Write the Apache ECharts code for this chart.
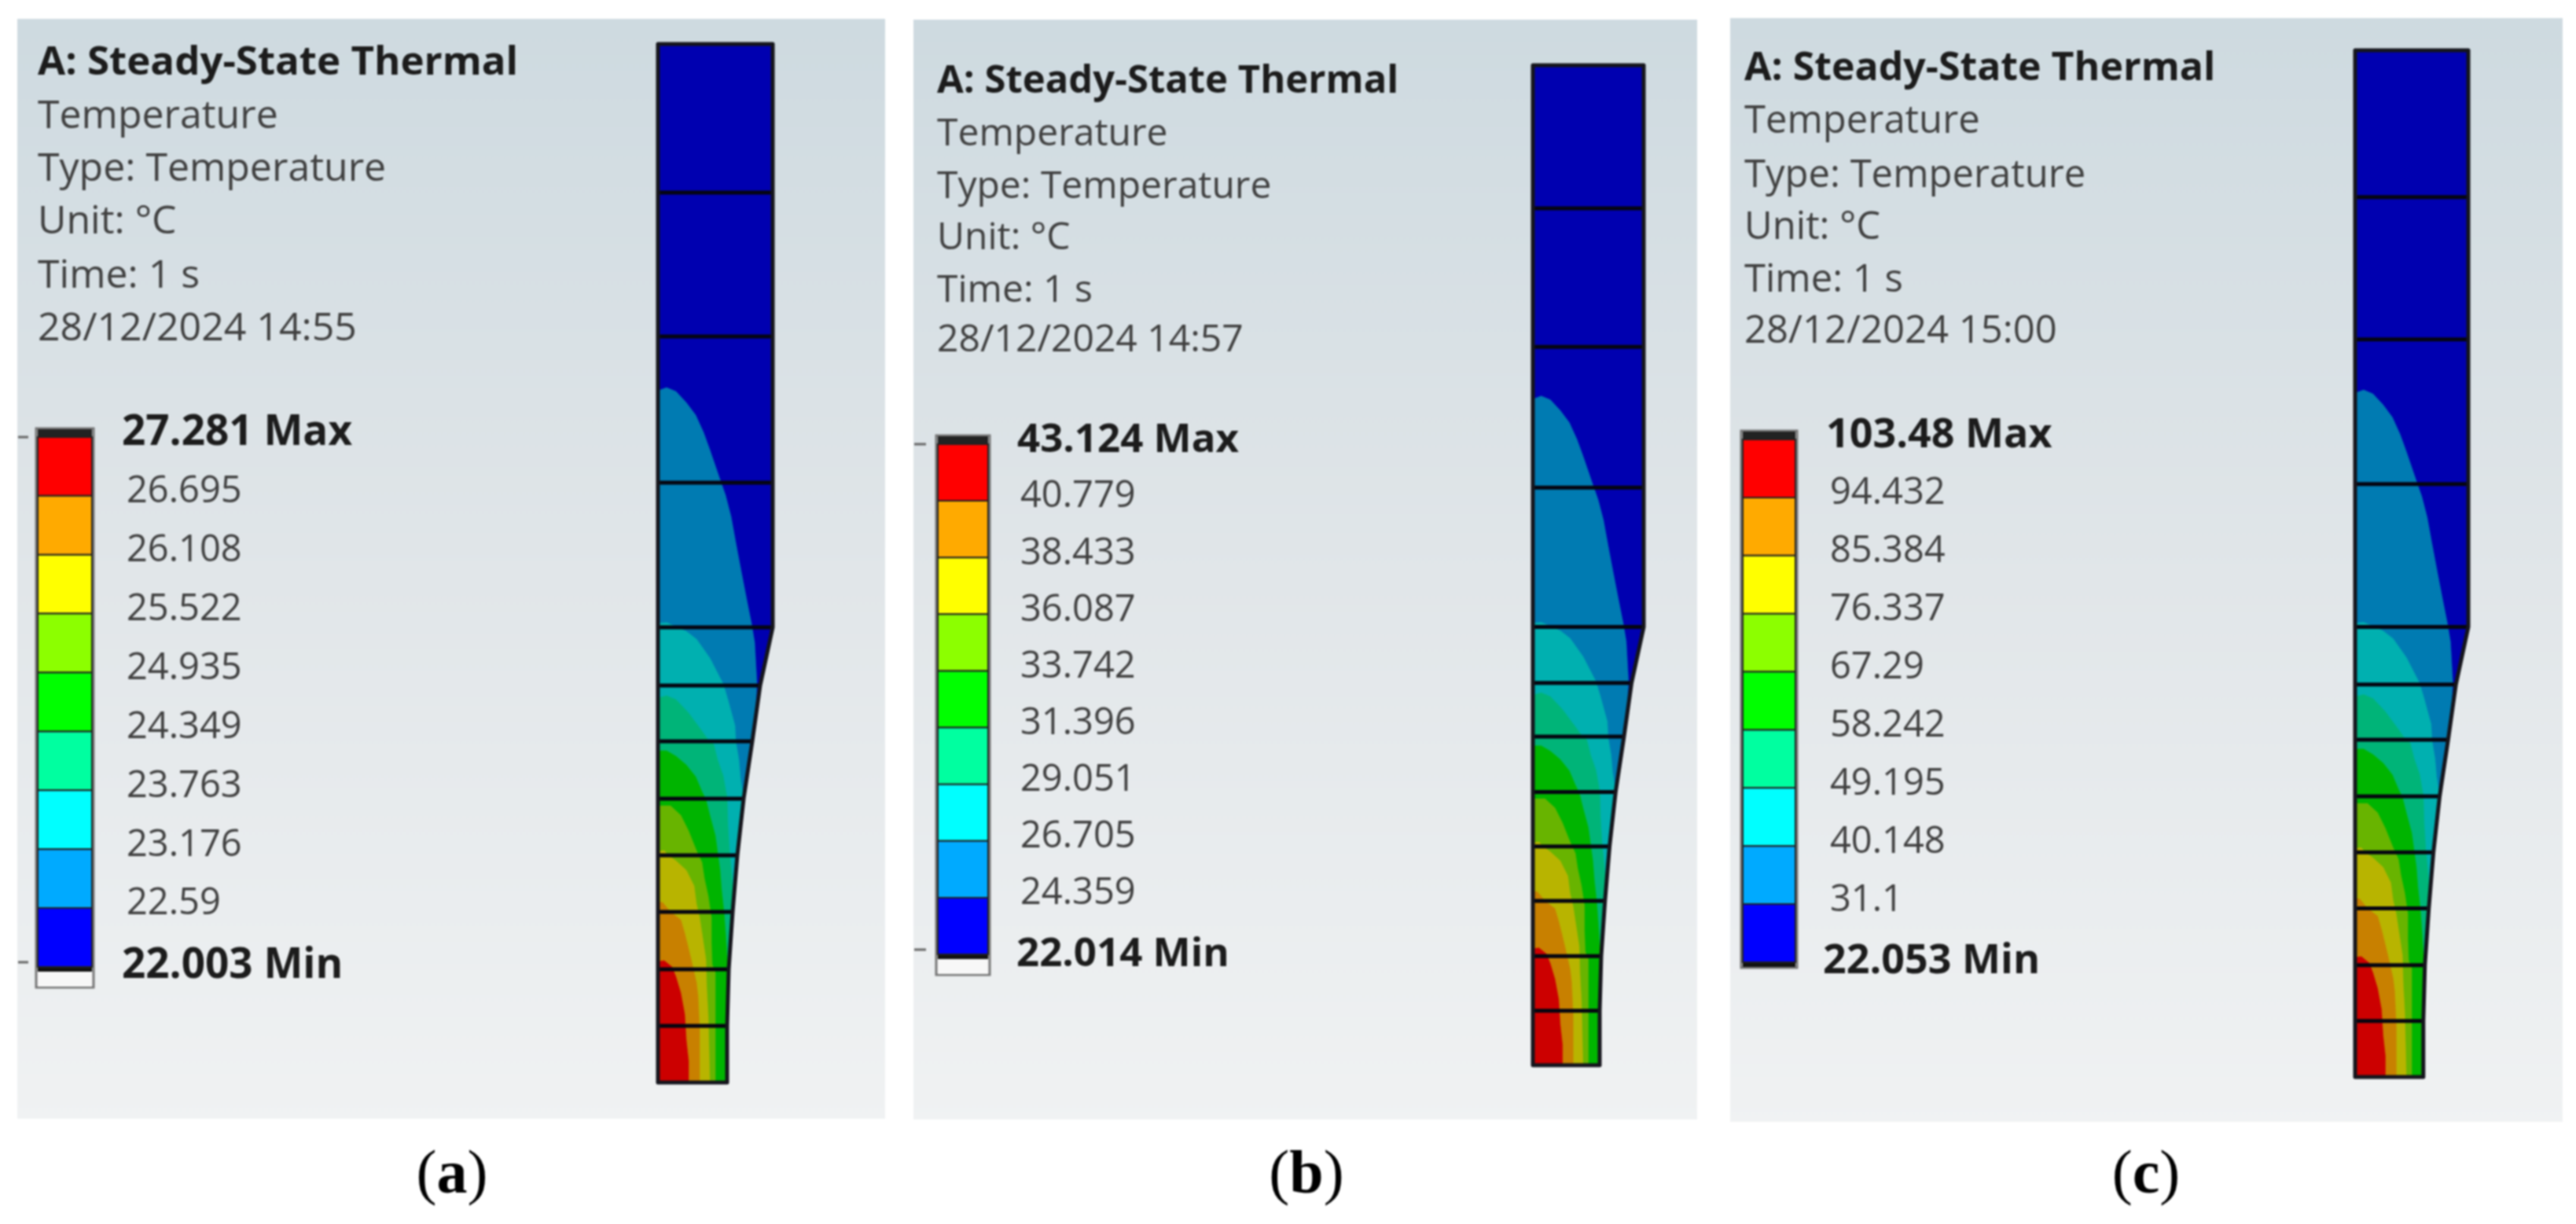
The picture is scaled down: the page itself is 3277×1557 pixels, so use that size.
<!DOCTYPE html>
<html><head><meta charset="utf-8">
<script src="https://cdn.jsdelivr.net/npm/echarts@6/dist/echarts.min.js"></script>
<style>html,body{margin:0;padding:0;background:#fff}#main{width:3277px;height:1557px;filter:blur(0.8px)}</style>
</head><body><div id="main"></div>
<script>
// ---------- data ----------
const captions = ['a','b','c'];
const headerLines = ['A: Steady-State Thermal','Temperature','Type: Temperature','Unit: °C','Time: 1 s'];
const timestamps = ['28/12/2024 14:55','28/12/2024 14:57','28/12/2024 15:00'];
const levelsA = [27.281,26.695,26.108,25.522,24.935,24.349,23.763,23.176,22.59,22.003];
const levelsB = [43.124,40.779,38.433,36.087,33.742,31.396,29.051,26.705,24.359,22.014];
const levelsC = [103.48,94.432,85.384,76.337,67.29,58.242,49.195,40.148,31.1,22.053];
const legendColors = ['#ff0000','#ffaa00','#ffff00','#8cff00','#00ff00','#00ffa0','#00ffff','#00aaff','#0000ff'];
// fin outline [x,y] in model units, y down from the tip
const finOutline = [[0,0],[146,0],[146,742],[130,816],[120,887],[109,960],[101,1032],[95,1104],[90,1177],[88,1249],[88,1321],[0,1321]];
const meshLines = [189,372,558,742,816,887,960,1032,1104,1177,1249];
// isotherm curves (hot side is towards the lower left)
const curveAzure = [[0,441],[11,437],[23,442],[36,456],[48,472],[58,494],[66,516],[79,554],[86,574],[93,601],[99,634],[106,671],[113,707],[119,737],[123,761],[126,814],[124,850],[120,887]];
const curveCyan = [[0,737],[11,736],[18,739],[36,747],[49,757],[66,781],[83,814],[89,834],[98,867],[99,887],[103,911],[105,934],[109,960]];
const curveTeal = [[0,832],[11,829],[23,834],[39,851],[56,874],[63,884],[71,891],[76,911],[83,931],[88,959],[89,994],[91,1027],[94,1057],[96,1084],[96,1100]];
const curveGreen = [[0,899],[11,899],[23,906],[36,917],[48,932],[56,951],[61,961],[66,981],[73,1007],[76,1029],[79,1051],[81,1077],[84,1104],[86,1131],[88,1161],[90,1177]];
const curveLime = [[0,969],[16,969],[29,981],[39,1001],[49,1026],[56,1041],[59,1061],[64,1084],[68,1111],[68,1144],[69,1171],[73,1181],[73,1237],[73,1321]];
const curveYellow = [[0,1027],[8,1026],[13,1032],[23,1039],[36,1051],[46,1071],[49,1094],[53,1111],[56,1131],[61,1164],[62,1200],[64,1237],[66,1321]];
const curveOrange = [[0,1091],[6,1092],[16,1104],[29,1114],[34,1131],[39,1151],[44,1172],[49,1194],[51,1211],[53,1254],[53,1321]];
const curveRed = [[0,1167],[8,1166],[18,1174],[23,1187],[29,1207],[34,1234],[36,1267],[39,1294],[39,1321]];
const isotherms = [curveAzure,curveCyan,curveTeal,curveGreen,curveLime,curveYellow,curveOrange,curveRed];
const shadeColors = ['#0000b0','#007bb2','#00b0b0','#00b478','#00b400','#68b400','#b8b400','#c88000','#cc0000'];

// ---------- layout ----------
const SANS = '"Open Sans"';
const panels = [
 {rect:[22,24,1104,1399], fin:[837,56,146,1321], leg:[48,556,69,674], levels:levelsA, legendWhite:true, tick:[-25,-12],
  textX:48, lineY:[80,149,216,283,352,419], fs:50, titleFs:51, lblFs:47, boldFs:53, lblX:44, boldX:38, minX:38, lblDy:-5, minDy:-1, cap:575},
 {rect:[1162,25,997,1399], fin:[1950,83,141,1272], leg:[1193,565,64,649], levels:levelsB, legendWhite:true, tick:[-30,-15],
  textX:1192, lineY:[104,171,238,303,370,433], fs:48, titleFs:49, lblFs:47, boldFs:51, lblX:41, boldX:37, minX:36, lblDy:-5, minDy:0, cap:1662},
 {rect:[2201,23,1059,1404], fin:[2996,64,144,1306], leg:[2217,559,67,665], levels:levelsC, legendWhite:false, tick:null,
  textX:2219, lineY:[88,155,224,290,357,422], fs:49, titleFs:50, lblFs:47, boldFs:52, lblX:44, boldX:39, minX:35, lblDy:-5, minDy:-1, cap:2730}
];

const edgeAt = y => {
  for (let i=1;i<finOutline.length;i++){
    const a=finOutline[i-1], b=finOutline[i];
    if (a[1]!==b[1] && y>=a[1] && y<=b[1]) return a[0]+(b[0]-a[0])*(y-a[1])/(b[1]-a[1]);
  }
  return 0;
};
const regionOf = curve => {
  const last = curve[curve.length-1], pts = curve.slice();
  finOutline.forEach((p,i)=>{ if(i>=2 && i<finOutline.length-1 && p[1]>last[1]) pts.push(p); });
  pts.push([0,finOutline[finOutline.length-1][1]]);
  return pts;
};
const regions = [finOutline].concat(isotherms.map(regionOf));

const grids=[], xAxes=[], yAxes=[], series=[], graphics=[];
const hidden = extra => Object.assign({show:false,type:'value'},extra);
panels.forEach((p,pi)=>{
  // panel background
  graphics.push({type:'rect',z:0,shape:{x:p.rect[0],y:p.rect[1],width:p.rect[2],height:p.rect[3]},
    style:{fill:new echarts.graphic.LinearGradient(0,0,0,1,[{offset:0,color:'#cedae0'},{offset:0.5,color:'#e1e6e9'},{offset:1,color:'#f0f2f3'}])}});
  // header text
  headerLines.concat([timestamps[pi]]).forEach((t,i)=>{
    graphics.push({type:'text',z:5,style:{text:t,x:p.textX,y:p.lineY[i],textVerticalAlign:'middle',
      font:(i===0?'bold ':'')+(i===0?p.titleFs:p.fs)+'px '+SANS,fill:i===0?'#1c1c1c':'#404040'}});
  });
  // caption
  graphics.push({type:'text',z:5,style:{text:'{n|(}{b|'+captions[pi]+'}{n|)}',x:p.cap,y:1497,textAlign:'center',textVerticalAlign:'middle',
    rich:{n:{font:'78px "Liberation Serif"',fill:'#000'},b:{font:'bold 78px "Liberation Serif"',fill:'#000'}}}});

  // fin grid: model units
  const fg=grids.length;
  grids.push({left:p.fin[0],top:p.fin[1],width:p.fin[2],height:p.fin[3],containLabel:false});
  xAxes.push(hidden({gridIndex:fg,min:0,max:146}));
  yAxes.push(hidden({gridIndex:fg,min:0,max:1321,inverse:true}));
  series.push({type:'custom',xAxisIndex:fg,yAxisIndex:fg,z:3,clip:false,silent:true,
    coordinateSystem:'cartesian2d',encode:{x:0,y:1},data:regions.map((r,i)=>[0,0,i]),
    renderItem:(params,api)=>({type:'polygon',shape:{points:regions[api.value(2)].map(q=>api.coord(q))},
      style:{fill:shadeColors[api.value(2)],stroke:shadeColors[api.value(2)],lineWidth:0.5}})});
  series.push({type:'custom',xAxisIndex:fg,yAxisIndex:fg,z:4,clip:false,silent:true,
    coordinateSystem:'cartesian2d',encode:{x:0,y:1},data:meshLines.map(y=>[0,y]),
    renderItem:(params,api)=>{const y=api.value(1);const a=api.coord([0,y]),b=api.coord([edgeAt(y),y]);
      return {type:'line',shape:{x1:a[0],y1:a[1],x2:b[0],y2:b[1]},style:{stroke:'#050510',lineWidth:5}};}});
  series.push({type:'custom',xAxisIndex:fg,yAxisIndex:fg,z:5,clip:false,silent:true,
    coordinateSystem:'cartesian2d',encode:{x:0,y:1},data:[[0,0]],
    renderItem:(params,api)=>({type:'polygon',shape:{points:finOutline.map(q=>api.coord(q))},
      style:{fill:'none',stroke:'#15151c',lineWidth:5,lineJoin:'round'}})});

  // legend grid: real temperature scale
  const lg=grids.length, L=p.levels;
  grids.push({left:p.leg[0],top:p.leg[1],width:p.leg[2],height:p.leg[3],containLabel:false});
  xAxes.push(hidden({gridIndex:lg,min:0,max:1}));
  yAxes.push(hidden({gridIndex:lg,min:L[L.length-1],max:L[0]}));
  const lo=L[L.length-1], hi=L[0];
  // end caps
  series.push({type:'custom',xAxisIndex:lg,yAxisIndex:lg,z:3,clip:false,silent:true,
    coordinateSystem:'cartesian2d',encode:{x:0,y:1},data:[[0,hi]],
    renderItem:(params,api)=>{
      const t=api.coord([0,hi]), b=api.coord([1,lo]), w=b[0]-t[0], ch=[];
      ch.push({type:'rect',shape:{x:t[0]-2,y:t[1]-11,width:w+4,height:b[1]-t[1]+(p.legendWhite?37:18)},style:{fill:'none',stroke:'#777',lineWidth:3}});
      ch.push({type:'rect',shape:{x:t[0],y:t[1]-10,width:w,height:10},style:{fill:'#222'}});
      if(p.legendWhite){
        ch.push({type:'rect',shape:{x:t[0],y:b[1],width:w,height:25},style:{fill:'#f7f7f7'}});
        ch.push({type:'rect',shape:{x:t[0],y:b[1],width:w,height:6},style:{fill:'#111'}});
      } else ch.push({type:'rect',shape:{x:t[0],y:b[1],width:w,height:6},style:{fill:'#111'}});
      if(p.tick){[t[1],b[1]-6].forEach(y=>ch.push({type:'line',shape:{x1:t[0]+p.tick[0],y1:y,x2:t[0]+p.tick[1],y2:y},style:{stroke:'#666',lineWidth:3}}));}
      return {type:'group',children:ch};
    }});
  // colour bands
  series.push({type:'custom',xAxisIndex:lg,yAxisIndex:lg,z:4,clip:false,silent:true,
    coordinateSystem:'cartesian2d',encode:{x:0,y:1},data:legendColors.map((c,i)=>[L[i],L[i+1],i]),
    renderItem:(params,api)=>{const a=api.coord([0,api.value(0)]),b=api.coord([1,api.value(1)]);
      return {type:'rect',shape:{x:a[0],y:a[1],width:b[0]-a[0],height:b[1]-a[1]},
        style:{fill:legendColors[api.value(2)],stroke:'#222',lineWidth:2}};}});
  // level labels
  series.push({type:'custom',xAxisIndex:lg,yAxisIndex:lg,z:5,clip:false,silent:true,
    coordinateSystem:'cartesian2d',encode:{x:0,y:1},data:L.map((v,i)=>[v,i]),
    renderItem:(params,api)=>{const i=api.value(1),v=api.value(0);const c=api.coord([1,v]);
      const isMin=i===L.length-1, end=i===0||isMin;
      const txt=String(v)+(i===0?' Max':isMin?' Min':'');
      return {type:'text',style:{text:txt,x:c[0]+(isMin?p.minX:end?p.boldX:p.lblX),y:c[1]+(isMin?p.minDy:p.lblDy),textVerticalAlign:'middle',
        font:(end?'bold '+p.boldFs:p.lblFs)+'px '+SANS,fill:end?'#1c1c1c':'#404040'}};}});
});
const chart=echarts.init(document.getElementById('main'),null,{renderer:'canvas'});
chart.setOption({animation:false,backgroundColor:'#fff',grid:grids,xAxis:xAxes,yAxis:yAxes,series:series,graphic:{elements:graphics}});
</script></body></html>
